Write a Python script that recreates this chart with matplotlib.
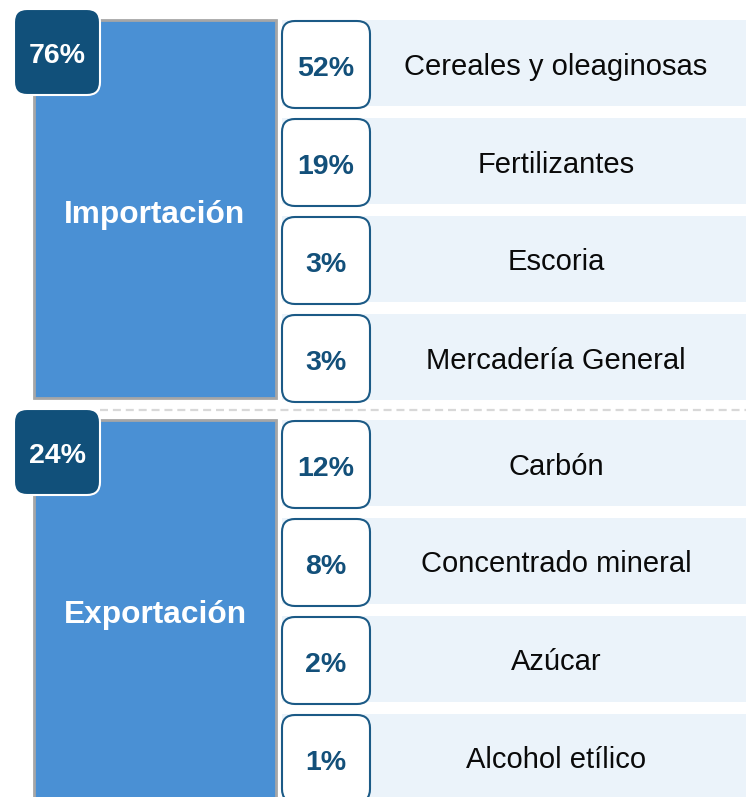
import matplotlib
matplotlib.use("Agg")
import matplotlib.pyplot as plt
from matplotlib.patches import Rectangle, FancyBboxPatch

FONT = "Liberation Sans"

# ---- data ----
groups = ["Importación", "Exportación"]
group_pct = [76, 24]
import_items = ["Cereales y oleaginosas", "Fertilizantes", "Escoria", "Mercadería General"]
import_pct = [52, 19, 3, 3]
export_items = ["Carbón", "Concentrado mineral", "Azúcar", "Alcohol etílico"]
export_pct = [12, 8, 2, 1]

items = [import_items, export_items]
pcts = [import_pct, export_pct]

# ---- style ----
W, H = 746, 797
BIG = "#4a90d4"
BADGE = "#11507a"
BOXEDGE = "#1b5a86"
ROWBG = "#ebf3fa"
PCTC = "#13507a"

fig = plt.figure(figsize=(W / 100, H / 100), dpi=100)
ax = fig.add_axes([0, 0, 1, 1])
ax.set_xlim(0, W)
ax.set_ylim(H, 0)
ax.axis("off")

group_top = [20, 420]
group_h = [378, 400]
row_pitch = 98
row_h = 86

for g in range(2):
    top = group_top[g]
    ax.add_patch(Rectangle((34, top), 242, group_h[g], facecolor=BIG,
                           edgecolor="#a6a6a6", linewidth=2, zorder=1))
    ax.text(155, top + 202.5, groups[g], color="white", fontsize=22.8,
            fontweight="bold", ha="center", va="baseline", family=FONT, zorder=5)
    ax.add_patch(FancyBboxPatch((14, top - 11), 86, 86,
                                boxstyle="round,pad=0,rounding_size=13",
                                facecolor=BADGE, edgecolor="white",
                                linewidth=1.5, zorder=3))
    ax.text(57, top + 43, f"{group_pct[g]}%", color="white", fontsize=20.5,
            fontweight="bold", ha="center", va="baseline", family=FONT, zorder=5)
    for i, (name, p) in enumerate(zip(items[g], pcts[g])):
        rt = top + i * row_pitch
        ax.add_patch(Rectangle((282, rt), W - 282, row_h, facecolor=ROWBG,
                               edgecolor="none", zorder=1))
        ax.add_patch(FancyBboxPatch((282, rt + 1), 88, 87,
                                    boxstyle="round,pad=0,rounding_size=13",
                                    facecolor="white", edgecolor=BOXEDGE,
                                    linewidth=1.5, zorder=3))
        ax.text(326, rt + 55.5, f"{p}%", color=PCTC, fontsize=20.5,
                fontweight="bold", ha="center", va="baseline", family=FONT, zorder=5)
        ax.text(556, rt + 54.5, name, color="#0a0a0a", fontsize=21,
                ha="center", va="baseline", family=FONT, zorder=5)

ax.plot([100, W], [410, 410], color="#d8d8d8", linewidth=1.6,
        linestyle=(0, (3.6, 2.2)), zorder=2)

fig.savefig("out.png", dpi=100)
